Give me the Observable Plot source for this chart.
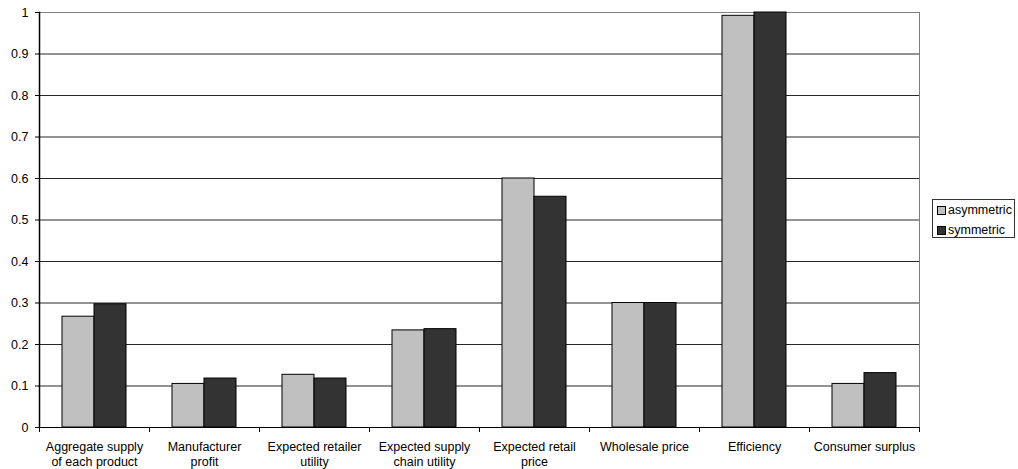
<!DOCTYPE html>
<html>
<head>
<meta charset="utf-8">
<script src="https://cdn.jsdelivr.net/npm/d3@7"></script>
<script src="https://cdn.jsdelivr.net/npm/@observablehq/plot@0.6"></script>
<style>
  html, body { margin: 0; padding: 0; background: #fff; }
  #wrap { position: relative; width: 1018px; height: 469px; font-family: "Liberation Sans", Arial, sans-serif; }
  #legend { position: absolute; left: 932px; top: 199px; width: 83px; height: 39px; border: 1px solid #333; box-sizing: border-box; background: #fff; font-size: 12.5px; color: #000; }
  .item { position: absolute; left: 4px; display: flex; align-items: center; height: 14px; }
  .sw { width: 7px; height: 7px; border: 1px solid #000; margin-right: 2px; }
</style>
</head>
<body>
<div id="wrap"></div>
<script>
const categories = [
  "Aggregate supply\nof each product",
  "Manufacturer\nprofit",
  "Expected retailer\nutility",
  "Expected supply\nchain utility",
  "Expected retail\nprice",
  "Wholesale price",
  "Efficiency",
  "Consumer surplus"
];
const asymmetric = [0.267, 0.105, 0.127, 0.234, 0.600, 0.300, 0.992, 0.105];
const symmetric  = [0.297, 0.118, 0.118, 0.237, 0.556, 0.300, 1.000, 0.131];
const seriesNames = ["asymmetric", "symmetric"];
const seriesColors = ["#c0c0c0", "#333333"];
const yTicks = [0, 0.1, 0.2, 0.3, 0.4, 0.5, 0.6, 0.7, 0.8, 0.9, 1];

const chart = Plot.plot({
  width: 1018,
  height: 469,
  marginLeft: 39,
  marginRight: 99,
  marginTop: 12,
  marginBottom: 42,
  style: { fontFamily: "'Liberation Sans', Arial, sans-serif", fontSize: "12.5px", background: "#fff", color: "#000" },
  x: { domain: categories, padding: 0, label: null },
  y: { domain: [0, 1], label: null },
  marks: [
    Plot.frame({ stroke: "#808080" }),
    Plot.ruleY(yTicks.filter(d => d > 0 && d < 1), { stroke: "#000", strokeOpacity: 0.85 }),
    Plot.barY(categories, { x: d => d, y: (d, i) => asymmetric[i], fill: seriesColors[0], stroke: "#000", strokeWidth: 1, insetLeft: 23, insetRight: 55 }),
    Plot.barY(categories, { x: d => d, y: (d, i) => symmetric[i], fill: seriesColors[1], stroke: "#000", strokeWidth: 1, insetLeft: 55, insetRight: 23 }),
    Plot.ruleY([0], { stroke: "#000" }),
    Plot.frame({ anchor: "left", stroke: "#000", strokeWidth: 1.5 }),
    Plot.axisY({ ticks: yTicks, tickFormat: d => String(d), tickSize: 4, tickPadding: 7, fontSize: 12.5 }),
    Plot.axisX({ tickSize: 0, tickPadding: 13, lineHeight: 1.2, fontSize: 12.5 }),
    Plot.axisX({ tickSize: 5, tickFormat: () => "", dx: 55 }),
    Plot.axisX({ ticks: [categories[0]], tickSize: 5, tickFormat: () => "", dx: -55 })
  ]
});

const wrap = document.getElementById("wrap");
wrap.appendChild(chart);
const legend = document.createElement("div");
legend.id = "legend";
seriesNames.forEach((name, i) => {
  const item = document.createElement("div");
  item.className = "item";
  item.style.top = (3 + i * 20) + "px";
  const sw = document.createElement("span");
  sw.className = "sw";
  sw.style.background = seriesColors[i];
  const label = document.createElement("span");
  label.textContent = name;
  item.appendChild(sw);
  item.appendChild(label);
  legend.appendChild(item);
});
wrap.appendChild(legend);
</script>
</body>
</html>
